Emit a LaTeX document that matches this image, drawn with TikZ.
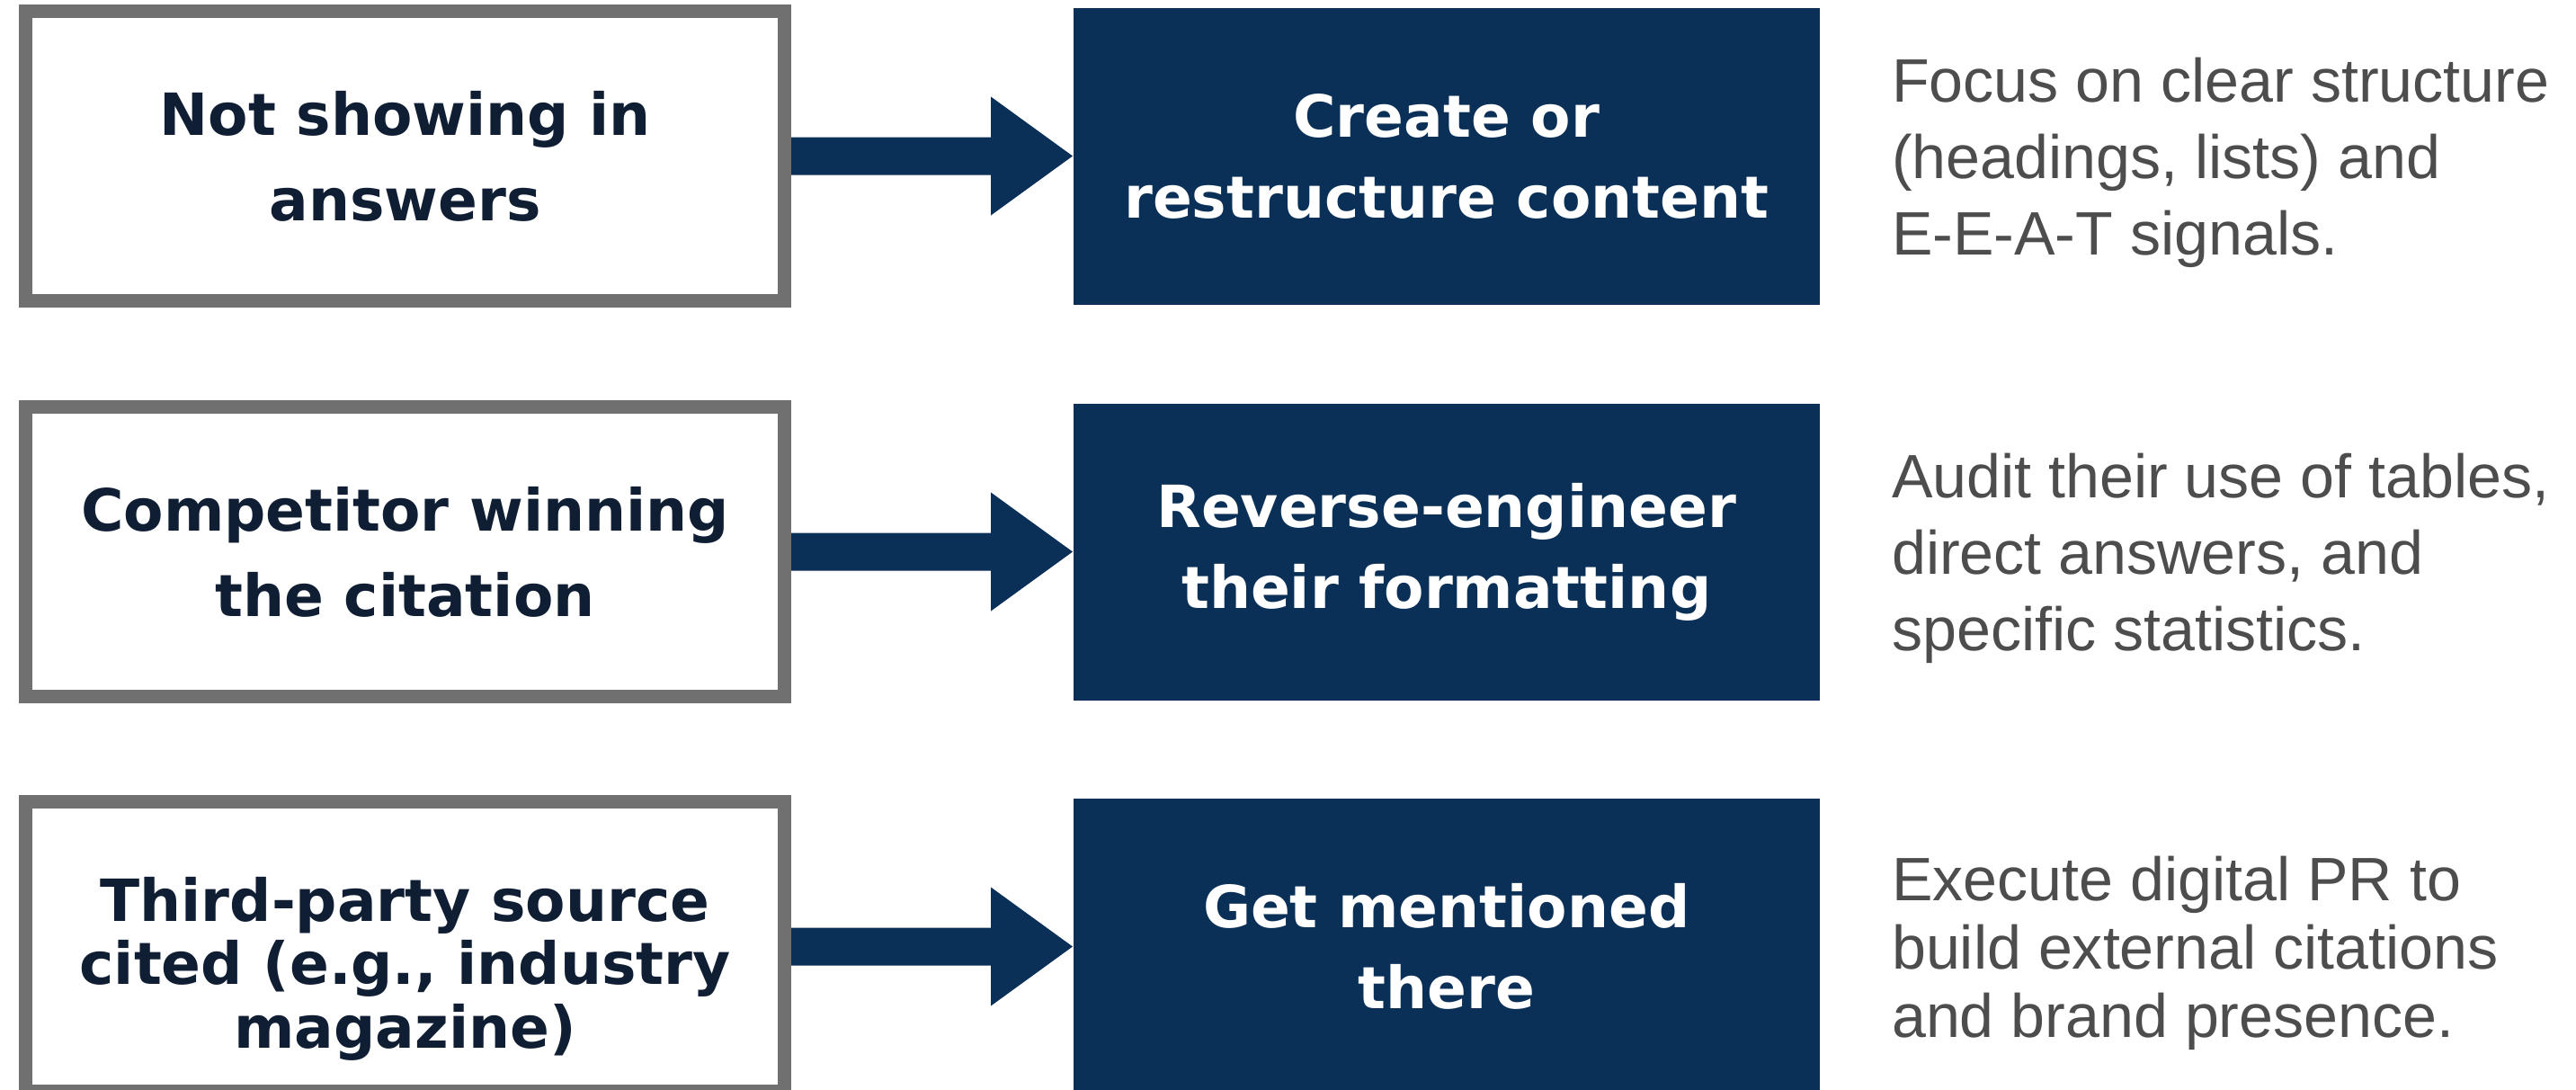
\documentclass[tikz,border=0pt]{standalone}
\usepackage{fontspec}
\setmainfont{Liberation Sans}
\newfontfamily\headfont{DejaVu Sans}
\usetikzlibrary{positioning,calc}

\definecolor{navy}{HTML}{0B3058}
\definecolor{boxgrey}{HTML}{707070}
\definecolor{inkblue}{HTML}{101E33}
\definecolor{notegrey}{HTML}{4D4D4D}

\newcommand{\fatarrow}[2]{
	\fill[navy] ($(#1.east)+(0,0.21)$) -- ($(#2.west)+(-0.91,0.21)$) -- ($(#2.west)+(-0.91,0.66)$) -- (#2.west) -- ($(#2.west)+(-0.91,-0.66)$) -- ($(#2.west)+(-0.91,-0.21)$) -- ($(#1.east)+(0,-0.21)$) -- cycle;
}

\tikzset{
	problem/.style={draw=boxgrey, line width=0.15cm, fill=white, minimum width=8.44cm, minimum height=3.22cm, inner sep=0pt, align=center, text=inkblue, font=\headfont\bfseries\fontsize{18.4}{27}\selectfont},
	action/.style={fill=navy, minimum width=8.30cm, minimum height=3.30cm, inner sep=0pt, align=center, text=white, font=\headfont\bfseries\fontsize{18.4}{25.6}\selectfont},
	note/.style={inner sep=0pt, align=left, text=notegrey, yshift=-0.07cm, font=\fontsize{19.4}{24.2}\selectfont}
}

\begin{document}
\begin{tikzpicture}
\useasboundingbox (0,0) rectangle (28.65,-12.12);

\pgfmathsetmacro{\rowA}{-1.735}
\pgfmathsetmacro{\rowB}{-6.135}
\pgfmathsetmacro{\rowC}{-10.525}
\pgfmathsetmacro{\probX}{4.505}

% row 1
\node[problem] (probA) at (\probX,\rowA) {Not showing in\\answers};
\node[action, right=3.13cm of probA] (actA) {Create or\\restructure content};
\node[note, right=0.79cm of actA] (noteA) {Focus on clear structure\\(headings, lists) and\\E-E-A-T signals.};

% row 2
\node[problem] (probB) at (\probX,\rowB) {Competitor winning\\the citation};
\node[action, right=3.13cm of probB] (actB) {Reverse-engineer\\their formatting};
\node[note, right=0.79cm of actB] (noteB) {Audit their use of tables,\\direct answers, and\\specific statistics.};

% row 3 (text sits a little low in its box)
\node[problem, font=\headfont\bfseries\fontsize{18.4}{20}\selectfont] (probC) at (\probX,\rowC) {\rule{0pt}{28pt}Third-party source\\cited (e.g., industry\\magazine)};
\node[action, right=3.13cm of probC] (actC) {Get mentioned\\there};
\node[note, right=0.79cm of actC, font=\fontsize{19.4}{21.6}\selectfont] (noteC) {Execute digital PR to\\build external citations\\and brand presence.};

\fatarrow{probA}{actA}
\fatarrow{probB}{actB}
\fatarrow{probC}{actC}
\end{tikzpicture}
\end{document}
